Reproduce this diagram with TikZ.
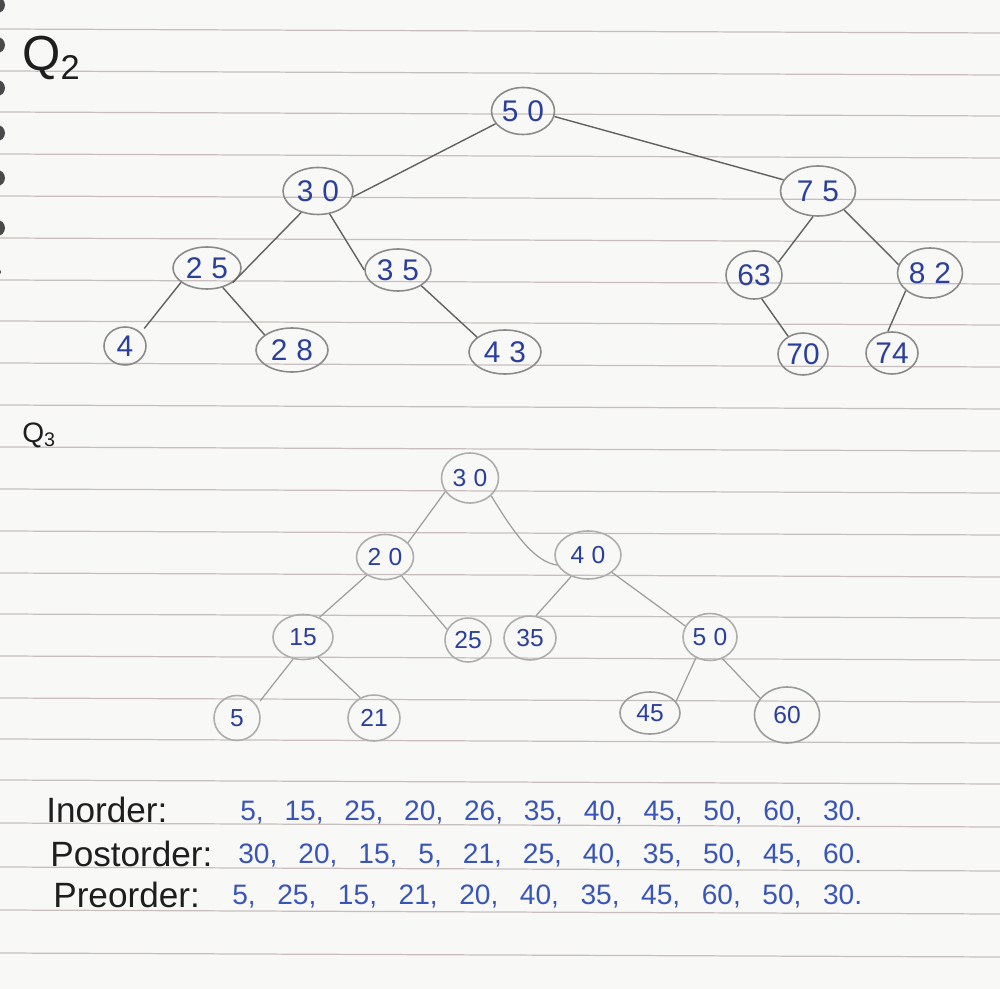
\documentclass[tikz,border=0pt]{standalone}
\usepackage{fontspec}
\setmainfont{Liberation Sans}
\usetikzlibrary{shapes.geometric}
\definecolor{paper}{HTML}{F8F8F6}
\definecolor{pen}{HTML}{2B3F9C}
\definecolor{penb}{HTML}{3A55B8}
\definecolor{ring}{HTML}{8A8A8A}
\definecolor{ringl}{HTML}{ADADAD}
\definecolor{rulec}{HTML}{C8BEBE}
\definecolor{ink}{HTML}{1E1E1E}
\definecolor{hole}{HTML}{4A4A4A}
\newcommand\dd[2]{#1\kern.3em#2}
\begin{document}
\begin{tikzpicture}[x=0.02cm,y=-0.02cm,
  nd/.style={ellipse, draw=ring, line width=0.9pt, inner sep=0pt, text=pen,
    font=\fontsize{17}{17}\selectfont},
  ndl/.style={nd, draw=ringl, font=\fontsize{14}{14}\selectfont},
  sz/.style 2 args={minimum width=#1*0.02cm, minimum height=#2*0.02cm},
  lnk/.style={draw=black!62, line width=0.8pt},
  lnkl/.style={draw=black!38, line width=0.7pt},
  lab/.style={anchor=base west, inner sep=0pt, text=ink, font=\fontsize{20}{20}\selectfont},
  seq/.style={anchor=base west, inner sep=0pt, text=penb, font=\fontsize{16}{16}\selectfont},
  ruling/.style={draw=rulec, line width=0.7pt}]
\useasboundingbox (0,0) rectangle (1000,989);
\fill[paper] (0,0) rectangle (1000,989);
% ruled lines
\foreach \yy in {29,71,112,154,196,238,280,321,363,405,447,489,531,573,614,656,698,739,780,823,867,910,953}
  \draw[ruling] (0,\yy) -- (1000,\yy+4);
% binding holes
\foreach \hy in {5,45,88,133,178,228}
  \fill[hole] (-3,\hy) circle[radius=8];
\fill[hole] (-3,272) circle[radius=4];

% headings
\node[anchor=base west, inner sep=0pt, text=ink, font=\fontsize{28}{28}\selectfont] (q2) at (22,71) {Q\textsubscript{2}};
\node[anchor=base west, inner sep=0pt, text=ink, font=\fontsize{16}{16}\selectfont] (q3) at (22,442) {Q\textsubscript{3}};

% Q2 tree
\node[nd, sz={63}{47}] (a50) at (523,111) {\dd50};
\node[nd, sz={70}{47}] (a30) at (318,191) {\dd30};
\node[nd, sz={68}{42}] (a25) at (207,268) {\dd25};
\node[nd, sz={66}{42}] (a35) at (398,270) {\dd35};
\node[nd, sz={42}{38}] (a4) at (125,346) {4};
\node[nd, sz={72}{44}] (a28) at (292,350) {\dd28};
\node[nd, sz={72}{44}] (a43) at (505,352) {\dd43};
\node[nd, sz={75}{50}] (a75) at (818,191) {\dd75};
\node[nd, sz={56}{48}] (a63) at (754,275) {63};
\node[nd, sz={65}{50}] (a82) at (930,273) {\dd82};
\node[nd, sz={50}{42}] (a70) at (803,354) {70};
\node[nd, sz={52}{42}] (a74) at (892,353) {74};

\draw[lnk] (a50.205) -- (a30.350);
\draw[lnk] (a50.350) -- (a75.162);
\draw[lnk] (a30.232) -- (a25.330);
\draw[lnk] (a30.297) -- (a35.180);
\draw[lnk, shorten >=3pt] (a25.209) -- (a4.40);
\draw[lnk] (a25.309) -- (a28.151);
\draw[lnk] (a35.326) -- (a43.152);
\draw[lnk] (a75.259) -- (a63.28);
\draw[lnk] (a75.324) -- (a82.165);
\draw[lnk] (a63.288) -- (a70.130);
\draw[lnk] (a82.216) -- (a74.101);

% Q3 tree
\node[ndl, sz={57}{50}] (b30) at (470,478) {\dd30};
\node[ndl, sz={57}{45}] (b20) at (385,557) {\dd20};
\node[ndl, sz={66}{48}] (b40) at (588,555) {\dd40};
\node[ndl, sz={60}{45}] (b15) at (303,637) {15};
\node[ndl, sz={46}{44}] (b25) at (468,640) {25};
\node[ndl, sz={52}{44}] (b35) at (530,638) {35};
\node[ndl, sz={54}{47}] (b50) at (710,637) {\dd50};
\node[ndl, sz={46}{45}] (b5) at (237,718) {5};
\node[ndl, sz={52}{46}] (b21) at (374,718) {21};
\node[ndl, sz={60}{42}, draw=ring!85] (b45) at (650,713) {45};
\node[ndl, sz={65}{56}, draw=ring!85] (b60) at (787,715) {60};

\draw[lnkl] (b30.209) -- (b20.32);
\draw[lnkl] (b30.320) .. controls (515,535) and (535,562) .. (b40.198);
\draw[lnkl] (b20.225) -- (b15.50);
\draw[lnkl] (b20.311) -- (b25.153);
\draw[lnkl] (b40.232) -- (b35.75);
\draw[lnkl] (b40.324) -- (b50.156);
\draw[lnkl] (b50.236) -- (b45.24);
\draw[lnkl] (b50.300) -- (b60.148);
\draw[lnkl, shorten >=3pt] (b15.246) -- (b5.33);
\draw[lnkl] (b15.306) -- (b21.124);

% traversals
\node[lab] (lin) at (46,822) {Inorder:};
\node[lab] (lpost) at (50,866) {Postorder:};
\node[lab] (lpre) at (53,907) {Preorder:};
\node[seq] (sin) at (240,820) {\makebox[12.44cm][s]{5,\hfil 15,\hfil 25,\hfil 20,\hfil 26,\hfil 35,\hfil 40,\hfil 45,\hfil 50,\hfil 60,\hfil 30.}};
\node[seq] (spost) at (238,863) {\makebox[12.48cm][s]{30,\hfil 20,\hfil 15,\hfil 5,\hfil 21,\hfil 25,\hfil 40,\hfil 35,\hfil 50,\hfil 45,\hfil 60.}};
\node[seq] (spre) at (232,904) {\makebox[12.6cm][s]{5,\hfil 25,\hfil 15,\hfil 21,\hfil 20,\hfil 40,\hfil 35,\hfil 45,\hfil 60,\hfil 50,\hfil 30.}};
\end{tikzpicture}
\end{document}
